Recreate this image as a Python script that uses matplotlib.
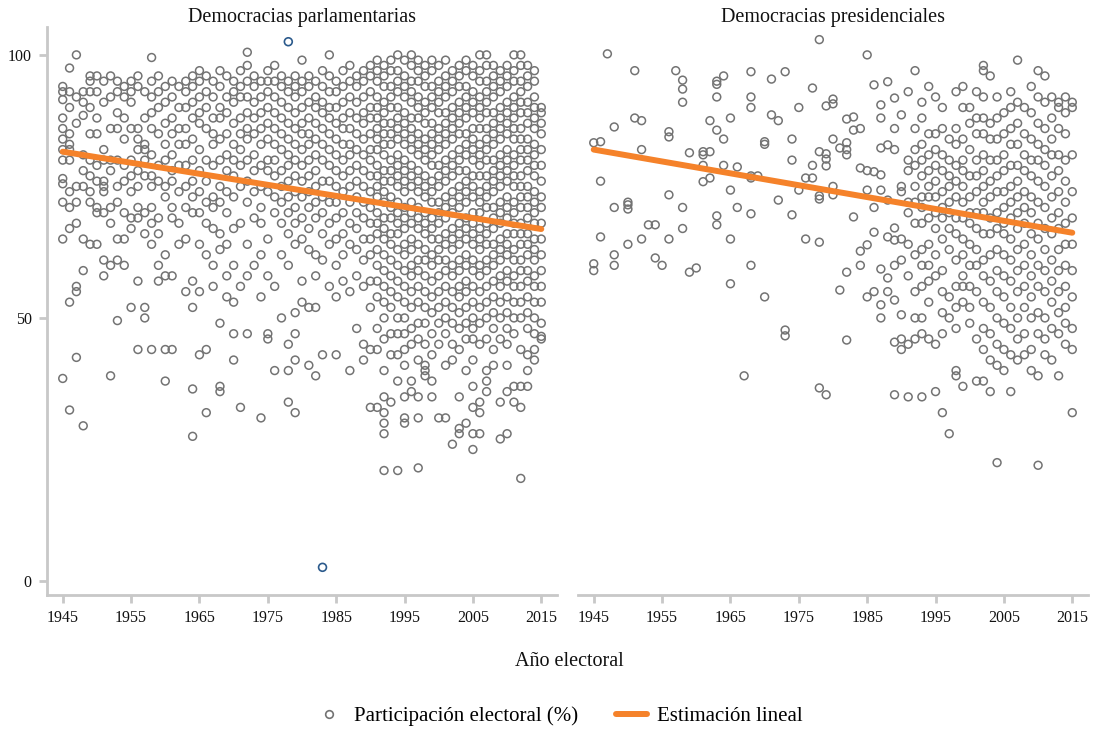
import numpy as np
import matplotlib
matplotlib.use('Agg')
import matplotlib.pyplot as plt
from matplotlib.lines import Line2D

# Turnout (%) per election year (one row per year)
parl_table = """
1945: 94 93 91.5 88 86 84 82 80 76.5 75.5 72 65 38.5
1946: 97.5 93 90 85 83 82 80 74 71 67 53 32.5
1947: 100 92 87 75 72 68 56 55 42.5
1948: 93 91 88.5 81 78 75 65 59 29.5
1949: 96 95 93 90 85 80 77 74 72 64
1950: 96 93 88 85 79 76 71 70 64
1951: 95 91 82 80 76 75 74 70 61 58
1952: 96 92 86 80 78 71 68 60 39
1953: 95 93 89 86 80 75 72 65 61 49.5
1954: 94 92 88 84 79 76 70 65 60
1955: 95 93 91 86 80 77 74 69 67 52
1956: 96 94 86 84 82 78 75 71 69 57 44
1957: 93 88 83 82 80 77 70 66 52 50
1958: 99.5 95 92 89 86 81 77 75 71 68 64 44
1959: 96 93 90 85 79 76 69 66 60 57
1960: 94 91 87 83 80 75 73 62 58 44 38
1961: 95 92 88 85 81 78 76 71 69 58 44
1962: 94 90 86 83 79 74 68 64
1963: 95 93 90 86 83 79 75 71 65 55
1964: 96 94 91 88 84 80 76 73 70 57 52 36.5 27.5
1965: 97 95 92 89 87 82 78 74 70 64 55 43
1966: 96 93 90 86 80 76 72 68 62 44 32
1967: 95 92 88 85 83 79 73 71 67 60 56
1968: 97 94 90 88 84 80 75 72 66 63 49 37 36
1969: 96 92 89 85 81 78 74 70 64 58 54
1970: 95 93 91 87 83 80 77 73 67 60 53 47 42
1971: 97 94 92 88 85 82 79 75 68 56 33
1972: 100.5 98 95 92 89 86 84 80 76 72 64 58 47
1973: 96 94 91 88 85 81 78 74 69 60
1974: 95 92 89 86 83 79 75 71 68 62 54 31
1975: 97 95 93 90 87 84 80 78 74 65 58 47 46
1976: 98 95 92 89 86 83 80 77 73 70 56 40
1977: 96 94 91 88 85 82 78 75 72 68 62 50
1978: 95 93 90 87 84 81 79 76 73 70 66 60 45 40 34
1979: 96 94 92 89 86 83 80 77 74 71 68 64 51 47 42 32
1980: 99 95 93 90 87 85 82 79 76 73 69 65 57 53
1981: 96 94 91 88 85 83 80 77 74 71 67 63 52 41
1982: 95 92 90 87 84 81 78 75 72 69 62 58 52 39
1983: 97 94 91 89 86 83 80 76 73 70 66 61 43
1984: 100 96 93 90 88 85 82 79 76 72 68 64 56
1985: 95 93 90 87 84 81 78 75 72 69 65 60 54 43
1986: 97 94 91 88 86 83 80 77 74 70 66 62 57
1987: 98 95 92 89 86 83 81 78 75 72 68 64 55 40
1988: 96 94 91 88 85 82 79 76 73 70 67 63 58 48
1989: 97 95 92 89 87 84 81 78 75 72 69 65 61 56 45 42
1990: 98 96 93 90 88 85 82 80 77 74 71 68 65 62 57 52 44 33
1991: 99 97 95 92 90 88 86 84 82 79 77 75 73 70 68 66 63 60 57 54 48 44 33
1992: 98 96 94 91 89 87 85 83 81 78 76 74 72 69 67 65 62 59 56 53 50 46 40 35 32 30 28 21
1993: 99 97 94 92 90 87 85 83 80 78 76 73 71 69 66 64 61 58 55 52 47 43 34
1994: 100 97 95 93 90 88 86 84 81 79 77 75 72 70 68 66 63 60 57 54 50 47 43 38 21
1995: 99 96 94 92 89 87 85 83 80 78 76 74 71 69 67 64 62 59 56 53 50 47 44 41 35 31 30
1996: 100 98 95 93 91 88 86 84 82 79 77 75 72 70 68 65 63 60 58 55 52 48 45 38 36
1997: 99 97 95 92 90 88 85 83 81 78 76 74 71 69 67 64 61 59 56 53 49 46 42 35 31 21.5
1998: 98 96 94 91 89 87 84 82 80 77 75 73 70 68 66 63 61 58 55 52 49 45 41 40 39
1999: 99 97 94 92 90 87 85 83 81 79 76 74 72 69 67 65 62 60 57 54 51 47 43 38 35
2000: 98 95 93 91 89 86 84 82 79 77 75 72 70 68 65 63 61 58 55 52 49 45 31
2001: 99 96 94 92 89 87 85 83 80 78 76 73 71 69 66 64 61 59 56 53 50 47 41 31
2002: 97 95 93 90 88 86 84 81 79 77 74 72 70 67 65 63 60 58 55 52 49 45 42 26
2003: 98 96 94 91 89 87 85 82 80 78 75 73 71 68 66 64 61 59 56 54 51 48 44 35 29 28
2004: 99 97 94 92 90 88 85 83 81 78 76 74 72 69 67 65 62 60 57 55 52 49 46 40 30
2005: 98 96 93 91 89 86 84 82 80 77 75 73 70 68 66 64 61 59 56 53 50 48 46 42 37 33 28 25
2006: 100 97 95 92 90 88 86 83 81 79 77 74 72 70 67 65 63 60 58 55 52 49 45 34 32 28
2007: 100 98 95 93 91 89 86 84 82 80 77 75 73 71 68 66 64 61 59 56 53 50 46 40 38 36
2008: 98 96 94 92 89 87 85 83 80 78 76 74 71 69 67 64 62 60 57 54 51 48 44 41
2009: 97 95 93 90 88 86 84 81 79 77 75 72 70 68 65 63 61 58 56 53 50 46 34 27
2010: 98 96 94 91 89 87 85 82 80 78 76 73 71 69 66 64 62 59 57 54 51 48 45 41 36 28
2011: 100 97 95 92 90 88 86 84 81 79 77 75 72 70 68 66 63 61 58 56 53 50 47 37 34
2012: 100 98 95 93 91 89 86 84 82 80 77 75 73 71 68 66 64 61 59 56 53 50 44 37 33 19.5
2013: 98 96 94 91 89 87 84 82 80 78 75 73 71 69 66 64 62 59 57 54 51 48 43 40 37
2014: 97 95 92 90 88 86 83 81 79 77 74 72 70 68 65 63 61 58 56 53 50 47 44 42
2015: 90 89 87 85 82 79 76 73 71 68 65 62 59 56 53 49 46.5 46
"""

pres_table = """
1945: 83.3 60.3 59
1946: 83.5 76 65.4
1947: 100.2
1948: 86.3 71 62 60
1950: 72 71.5 70.7 64
1951: 97 88
1952: 87.5 82 65
1953: 67.7
1954: 67.7 61.4
1955: 60
1956: 85.4 84.4 73.4 65
1957: 97
1958: 95.2 93.5 91 71 67
1959: 81.4 58.7
1960: 59.5
1961: 81.6 81 79 75.9
1962: 87.5 81.6 76.6
1963: 95 94.4 92 85.7 69.4 67.7
1964: 96 84 79
1965: 88 74.3 65 56.5
1966: 78.7 71
1967: 39
1968: 96.8 92 90 77 76.6 69.8 60
1969: 77
1970: 83.5 83 54
1971: 95.4 88.6
1972: 87.5 72.4
1973: 96.8 47.7 46.6
1974: 84 80 69.6
1975: 90 74.3
1976: 76.6 65
1977: 93.7 79 76.6
1978: 102.9 81.6 73.2 72.6 64.4 36.7
1979: 90.3 81.2 80.2 78.9 35.4
1980: 91.6 90.7 84 75 73.4
1981: 82.3 55.3
1982: 87.8 83.3 82 81 58.7 45.8
1983: 88.2 85.7 69.2
1984: 86 78.5 62.7 60
1985: 100 78 74.3 63.9 54
1986: 94.3 77.8 71 66.3 55
1987: 90.5 88 82.3 77.2 74.3 59.3 52.5 50
1988: 94.9 82.9 72.4 65.4 57.6 55
1989: 91.8 86 82 67.1 64.8 60 53.4 45.4 35.4
1990: 88.6 75 74 65 61 50.6 46 44
1991: 93 80 78 72 70 64 58 45 35
1992: 97 86 82 79 75 72 68 62 55 50 46
1993: 91 88 83 80 77 73 71 68 63 60 56 50 47 35
1994: 94 85 81 78 75 73 69 64 60 57 53 46
1995: 92 85 82 79 76 73 70 67 62 58 45 36
1996: 90 86 81 78 74 71 69 65 59 55 51 47 32
1997: 84 80 77 75 72 70 67 63 54 50 28
1998: 93 86 83 79 76 73 69 66 61 56 52 48 40 39
1999: 94 90 84 80 78 75 72 69 65 62 58 56 53 37
2000: 90 87 82 77 73 70 68 64 60 56 52 49
2001: 93 88 85 80 77 74 70 67 63 60 55 46 38
2002: 98 97 92 88 85 81 78 75 72 70 66 61 58 53 48 44 38
2003: 96 87 84 80 76 73 69 66 62 57 52 47 42 36
2004: 92 88 84 80 77 74 70 67 63 59 55 50 45 41 22.5
2005: 89 85 81 78 74 71 68 66 62 58 54 49 44 40
2006: 93 90 86 83 79 75 72 69 65 61 57 52 48 43 36
2007: 99 91 87 83 79 76 73 70 67 63 59 55 50 46 42
2008: 90 85 81 78 74 71 68 64 60 56 52 47 43
2009: 94 89 84 80 77 73 70 66 62 58 54 50 44 40
2010: 97 92 87 83 80 76 72 68 65 60 56 51 47 39 22
2011: 96 91 86 82 79 75 71 67 63 59 55 50 46 43
2012: 92 88 84 81 77 73 69 66 61 57 53 48 42
2013: 91 90 86 81 78 74 70 67 63 59 55 51 47 39
2014: 92 89 85 80 76 72 68 64 60 56 52 49 45
2015: 91 90 81 74 69 64 59 54 48 44 32
"""

# highlighted cases (drawn in blue) in the parliamentary panel
outlier_years = [1978, 1983]
outlier_vals = [102.5, 2.6]

# linear fit lines, endpoints
fit_years = [1945, 2015]
fit_parl = [81.6, 66.9]
fit_pres = [82.0, 66.2]

panel_titles = ['Democracias parlamentarias', 'Democracias presidenciales']
xticks = [1945, 1955, 1965, 1975, 1985, 1995, 2005, 2015]
yticks = [0, 50, 100]


def parse(table):
    yrs, vals = [], []
    for line in table.strip().splitlines():
        y, rest = line.split(':')
        for v in rest.split():
            yrs.append(int(y))
            vals.append(float(v))
    return np.array(yrs), np.array(vals)


parl_x, parl_y = parse(parl_table)
pres_x, pres_y = parse(pres_table)

plt.rcParams['font.family'] = ['Liberation Serif', 'DejaVu Serif']

GREY = '#737373'
ORANGE = '#f5822a'
AXC = '#c8c8c8'

fig = plt.figure(figsize=(10.94, 7.29), dpi=100)
ax1 = fig.add_axes([47/1094, 1-595/729, 510/1094, 568/729])
ax2 = fig.add_axes([578/1094, 1-595/729, 510/1094, 568/729])

for ax, xs, ys, fit, title in [(ax1, parl_x, parl_y, fit_parl, panel_titles[0]),
                               (ax2, pres_x, pres_y, fit_pres, panel_titles[1])]:
    ax.scatter(xs, ys, s=32, facecolors='none', edgecolors=GREY, linewidths=1.1, zorder=2)
    ax.plot(fit_years, fit, color=ORANGE, linewidth=4.3, solid_capstyle='round', zorder=3)
    ax.set_xlim(1942.7, 2017.3)
    ax.set_ylim(-2.66, 105.3)
    ax.set_xticks(xticks)
    ax.set_yticks(yticks)
    for s in ['top', 'right']:
        ax.spines[s].set_visible(False)
    for s in ['left', 'bottom']:
        ax.spines[s].set_color(AXC)
        ax.spines[s].set_linewidth(2)
    ax.tick_params(color=AXC, length=6, width=2, pad=5, labelsize=11.5, labelcolor='#111111')
    ax.set_title(title, fontsize=14.5, pad=1, color='#111111')

ax1.scatter(outlier_years, outlier_vals, s=32, facecolors='none', edgecolors='#2b5a8c',
            linewidths=1.2, zorder=2)

ax2.spines['left'].set_visible(False)
ax2.tick_params(axis='y', left=False, labelleft=False)

fig.text(0.52, 1-662/729, 'Año electoral', ha='center', va='center', fontsize=14.5, color='#111111')

handles = [Line2D([], [], linestyle='none', marker='o', markersize=5.5, markerfacecolor='none',
                  markeredgecolor=GREY, markeredgewidth=1.2),
           Line2D([], [], color=ORANGE, linewidth=4.3, solid_capstyle='round')]
fig.legend(handles, ['Participación electoral (%)', 'Estimación lineal'], loc='center',
           bbox_to_anchor=(0.51, 1-716/729), ncol=2, frameon=False, fontsize=15,
           handlelength=1.5, handletextpad=0.45, columnspacing=1.8)

fig.savefig('out.png', dpi=100)
